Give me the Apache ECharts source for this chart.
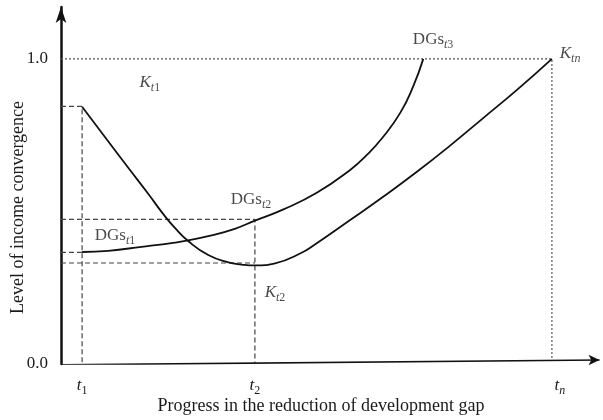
<!DOCTYPE html>
<html lang="en">
<head>
    <meta charset="UTF-8">
    <title>Income convergence</title>
    <script src="https://cdn.jsdelivr.net/npm/echarts@6/dist/echarts.min.js"></script>
</head>
<body style="margin:0">
    <div id="container" style="width: 603px;height: 420px"></div>
</body>
</html>
<script>
// positions on the x axis
var t1 = 0.43, t2 = 3.95, tn = 10;
var tickValues = [t1, t2, tn];
var tickNames = ['t1', 't2', 'tn'];

// curves
var dgsCurve = [[0.43, 0.367], [0.96, 0.371], [1.64, 0.384], [2.32, 0.398], [2.59, 0.405],
    [3.00, 0.419], [3.54, 0.443], [3.95, 0.470], [4.52, 0.506], [5.21, 0.561],
    [5.89, 0.636], [6.23, 0.685], [6.56, 0.744], [6.91, 0.823], [7.17, 0.908], [7.38, 1.0]];
var kCurve = [[0.43, 0.843], [0.96, 0.730], [1.37, 0.643], [1.78, 0.557], [2.08, 0.492],
    [2.32, 0.446], [2.59, 0.403], [3.00, 0.357], [3.41, 0.333], [3.68, 0.326],
    [3.95, 0.323], [4.36, 0.330], [4.87, 0.362], [5.21, 0.396], [5.89, 0.472],
    [6.57, 0.549], [7.25, 0.630], [7.92, 0.715], [8.60, 0.806], [9.30, 0.900], [10.0, 1.0]];

// guide lines
var dashedGuides = [
    [[0, 0.844], [t1, 0.844], [t1, 0]],
    [[0, 0.474], [t2, 0.474], [t2, 0.003]],
    [[0, 0.366], [t1, 0.366]],
    [[0, 0.331], [t2, 0.331]]
];
var dottedGuides = [
    [[0, 1.0], [tn, 1.0], [tn, 0.012]]
];
var xAxisEnds = [[0, -0.003], [10.97, 0.013]];

// annotations
var annotNames = ['K_t1', 'DGs_t3', 'K_tn', 'DGs_t2', 'DGs_t1', 'K_t2'];
var annotX = [1.81, 7.58, 10.37, 3.87, 1.10, 4.36];
var annotY = [0.921, 1.062, 1.016, 0.538, 0.420, 0.233];

var serif = 'Liberation Serif';
var ink = '#1a1a1a';
var rich = {
    m: {fontFamily: serif, fontSize: 17, fontStyle: 'italic', color: ink, lineHeight: 22},
    r: {fontFamily: serif, fontSize: 17, color: ink, lineHeight: 22},
    si: {fontFamily: serif, fontSize: 12, fontStyle: 'italic', color: ink, lineHeight: 11, verticalAlign: 'bottom'},
    sn: {fontFamily: serif, fontSize: 12, color: ink, lineHeight: 11, verticalAlign: 'bottom'}
};

function richText(name) {
    var p = name.split('_');
    var head = p[0] === 'K' ? '{m|K}' : '{r|' + p[0] + '}';
    var sub = p[1];
    if (sub === 'tn') return head + '{si|tn}';
    return head + '{si|t}{sn|' + sub.slice(1) + '}';
}

var chart = echarts.init(document.getElementById('container'));

var series = [];
dashedGuides.forEach(function (g) {
    series.push({
        type: 'line', data: g, symbol: 'none', silent: true,
        lineStyle: {color: '#444', width: 1.2, type: [5, 3]}
    });
});
dottedGuides.forEach(function (g) {
    series.push({
        type: 'line', data: g, symbol: 'none', silent: true,
        lineStyle: {color: '#555', width: 1.2, type: [2, 2]}
    });
});
// sloped x axis with arrow head at its end
series.push({
    type: 'line', silent: true, showSymbol: true,
    data: [
        {value: xAxisEnds[0], symbol: 'none'},
        {value: xAxisEnds[1], symbol: 'arrow', symbolSize: [8, 11], symbolRotate: -90}
    ],
    itemStyle: {color: '#111'},
    lineStyle: {color: '#111', width: 1.6}
});
series.push({
    name: 'DGs', type: 'line', data: dgsCurve, symbol: 'none', smooth: 0.5,
    lineStyle: {color: '#111', width: 1.8}
});
series.push({
    name: 'K', type: 'line', data: kCurve, symbol: 'none', smooth: 0.5,
    lineStyle: {color: '#111', width: 1.8}
});
series.push({
    type: 'scatter', symbolSize: 0, silent: true,
    data: annotNames.map(function (n, i) {
        return {name: n, value: [annotX[i], annotY[i]]};
    }),
    label: {
        show: true, position: 'inside',
        formatter: function (p) { return richText(p.name); },
        rich: rich
    }
});

chart.setOption({
    animation: false,
    backgroundColor: '#fff',
    grid: {left: 61, right: 2, top: 7, bottom: 56, outerBoundsMode: 'none'},
    xAxis: {
        type: 'value', min: 0, max: 11,
        axisLine: {show: false},
        axisTick: {show: false},
        splitLine: {show: false},
        axisLabel: {
            customValues: tickValues,
            margin: 11,
            formatter: function (v) {
                var i = tickValues.indexOf(v);
                if (i === 2) return '{pad|}{m|t}{si|n}';
                return '{m|t}{sn|' + tickNames[i].slice(1) + '}';
            },
            rich: Object.assign({pad: {width: 16}}, rich)
        },
        name: 'Progress in the reduction of development gap',
        nameLocation: 'middle',
        nameGap: 33,
        nameMoveOverlap: false,
        nameTextStyle: {fontFamily: serif, fontSize: 18, color: ink, padding: [0, 20, 0, 0]}
    },
    yAxis: {
        type: 'value', min: 0, max: 1.17,
        axisLine: {
            show: true, symbol: ['none', 'arrow'], symbolSize: [8, 16],
            lineStyle: {color: '#111', width: 2.5}
        },
        axisTick: {show: false},
        splitLine: {show: false},
        axisLabel: {
            customValues: [0, 1],
            margin: 13,
            formatter: function (v) { return v.toFixed(1); },
            fontFamily: serif, fontSize: 17, color: ink
        },
        name: 'Level of income convergence',
        nameLocation: 'middle',
        nameGap: 34,
        nameMoveOverlap: false,
        nameTextStyle: {fontFamily: serif, fontSize: 18, color: ink, padding: [0, 44, 0, 0]}
    },
    series: series
});
</script>
